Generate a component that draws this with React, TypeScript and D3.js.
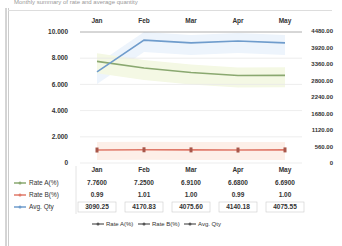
import React from 'react';
import * as d3 from 'd3';

const categories = ['Jan', 'Feb', 'Mar', 'Apr', 'May'];
const seriesNames = ['Rate A(%)', 'Rate B(%)', 'Avg. Qty'];
const rateA = [7.76, 7.25, 6.91, 6.68, 6.69];
const rateB = [0.99, 1.01, 1.0, 0.99, 1.0];
const avgQty = [3090.25, 4170.83, 4075.6, 4140.18, 4075.55];
const leftTicks = [0, 2, 4, 6, 8, 10];
const rightTicks = [0, 560, 1120, 1680, 2240, 2800, 3360, 3920, 4480];

const colors = ['#8aa870', '#e07a6a', '#6f9ccc'];
const bandFills = ['#f4f8e4', '#fdefe8', '#edf4fc'];

const W = 342;
const H = 246;

const App = () => {
  const x = d3.scalePoint<string>().domain(categories).range([97, 285]);
  const yL = d3.scaleLinear().domain([0, 10]).range([163, 32]);
  const yR = d3.scaleLinear().domain([0, 4480]).range([163, 31]);

  const series = [
    { name: seriesNames[0], values: rateA, y: yL, fmt: (v: number) => v.toFixed(4) },
    { name: seriesNames[1], values: rateB, y: yL, fmt: (v: number) => v.toFixed(2) },
    { name: seriesNames[2], values: avgQty, y: yR, fmt: (v: number) => v.toFixed(2) },
  ];

  const line = (vals: number[], y: d3.ScaleLinear<number, number>) =>
    d3.line<number>().x((_, i) => x(categories[i])!).y((v) => y(v))(vals) || '';
  const band = (vals: number[], y: d3.ScaleLinear<number, number>, up: number, down: number) =>
    d3
      .area<number>()
      .x((_, i) => x(categories[i])!)
      .y0((v) => y(v) + down)
      .y1((v) => y(v) - up)(vals) || '';

  const font = { fontFamily: 'Liberation Sans, Arial, sans-serif', fontSize: 6.5, fill: '#333' };
  const rowY = [185, 197, 209];

  return (
    <svg width={W} height={H} style={{ position: 'absolute', left: 0, top: 0, background: '#fff' }}>
      <text x={14} y={4} {...font} fill="#999" fontSize={6}>
        Monthly summary of rate and average quantity
      </text>
      {/* frame */}
      <line x1={6} x2={6} y1={8} y2={246} stroke="#aaa" strokeWidth={1} />
      <line x1={8.5} x2={8.5} y1={8} y2={246} stroke="#ccc" strokeWidth={1} />
      <line x1={8} x2={332} y1={10.5} y2={10.5} stroke="#ddd" />

      {/* category header */}
      {categories.map((c) => (
        <text key={c} x={x(c)} y={23} textAnchor="middle" {...font} fontWeight="bold">
          {c}
        </text>
      ))}

      {/* bands */}
      <path d={band(avgQty, yR, 8, 12)} fill={bandFills[2]} />
      <path d={band(rateA, yL, 8, 12)} fill={bandFills[0]} />
      <path d={band(rateB, yL, 8, 10)} fill={bandFills[1]} />

      {/* grid */}
      {leftTicks.map((t) => (
        <g key={t}>
          <line x1={80} x2={302} y1={yL(t)} y2={yL(t)} stroke={t === 10 ? '#999' : '#e8e8e8'} strokeWidth={0.8} />
          <text x={68} y={yL(t) + 2.2} textAnchor="end" {...font} fontWeight="bold">
            {t === 0 ? '0' : t.toFixed(3)}
          </text>
        </g>
      ))}
      {rightTicks.map((t) => (
        <text key={t} x={333} y={yR(t) + 2.2} textAnchor="end" {...font} fontSize={6} fontWeight="bold">
          {t === 0 ? '0' : t.toFixed(2)}
        </text>
      ))}

      {/* lines */}
      {series.map((s, i) => (
        <g key={s.name}>
          <path d={line(s.values, s.y)} fill="none" stroke={colors[i]} strokeWidth={1.6} />
          {i === 1 &&
            s.values.map((v, j) => (
              <rect
                key={j}
                x={x(categories[j])! - 1.5}
                y={s.y(v) - 2.5}
                width={3}
                height={5}
                fill="#a8574a"
              />
            ))}
        </g>
      ))}

      {/* table */}
      {categories.map((c) => (
        <text key={c} x={x(c)} y={172} textAnchor="middle" {...font} fontWeight="bold">
          {c}
        </text>
      ))}
      <line x1={76} x2={76} y1={166} y2={214} stroke="#e4e4e4" />
      {series.map((s, i) => (
        <g key={s.name}>
          <line x1={14} x2={26} y1={rowY[i] - 2} y2={rowY[i] - 2} stroke={colors[i]} strokeWidth={1.5} />
          <circle cx={20} cy={rowY[i] - 2} r={1.5} fill={colors[i]} />
          <text x={29} y={rowY[i]} {...font}>
            {s.name}
          </text>
          {s.values.map((v, j) => (
            <g key={j}>
              {i === 2 && (
                <rect
                  x={x(categories[j])! - 19}
                  y={rowY[i] - 7}
                  width={38}
                  height={10}
                  fill="none"
                  stroke="#ccc"
                  strokeWidth={0.6}
                />
              )}
              <text x={x(categories[j])} y={rowY[i]} textAnchor="middle" {...font} fontWeight="bold">
                {s.fmt(v)}
              </text>
            </g>
          ))}
        </g>
      ))}

      {/* legend */}
      {series.map((s, i) => {
        const lx = 92 + i * 46;
        return (
          <g key={s.name}>
            <line x1={lx} x2={lx + 12} y1={224} y2={224} stroke="#555" strokeWidth={1.2} />
            <circle cx={lx + 6} cy={224} r={1.5} fill="#555" />
            <text x={lx + 14} y={226} {...font} fontSize={6}>
              {s.name}
            </text>
          </g>
        );
      })}
    </svg>
  );
};

export default App;
